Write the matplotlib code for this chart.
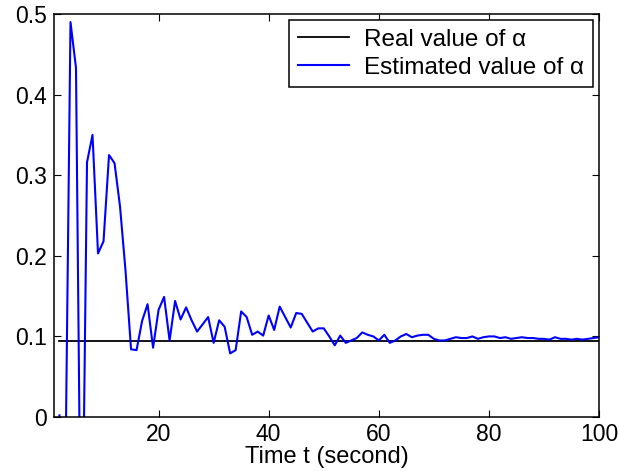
import matplotlib
matplotlib.use('Agg')
import matplotlib.pyplot as plt

plt.rcParams['font.family'] = ['Liberation Sans', 'DejaVu Sans']

# time steps and values
t = list(range(2, 101))
alpha_real = 0.094
alpha_est = [
    0.002, -0.12, 0.490, 0.433, -0.27, 0.316, 0.350, 0.203, 0.218,      # 2-10
    0.325, 0.315, 0.261, 0.181, 0.084, 0.083, 0.119, 0.140, 0.086, 0.133,  # 11-20
    0.149, 0.095, 0.144, 0.121, 0.136, 0.120, 0.106, 0.115, 0.124, 0.092,  # 21-30
    0.120, 0.112, 0.079, 0.083, 0.131, 0.124, 0.102, 0.106, 0.101, 0.126,  # 31-40
    0.108, 0.137, 0.124, 0.111, 0.129, 0.128, 0.117, 0.106, 0.110, 0.110,  # 41-50
    0.100, 0.089, 0.101, 0.092, 0.095, 0.098, 0.105, 0.102, 0.100, 0.095,  # 51-60
    0.102, 0.092, 0.095, 0.100, 0.103, 0.099, 0.101, 0.102, 0.102, 0.097,  # 61-70
    0.095, 0.095, 0.097, 0.099, 0.098, 0.098, 0.100, 0.097, 0.099, 0.100,  # 71-80
    0.100, 0.098, 0.099, 0.097, 0.098, 0.099, 0.098, 0.098, 0.097, 0.097,  # 81-90
    0.096, 0.099, 0.097, 0.097, 0.096, 0.097, 0.096, 0.097, 0.098, 0.099,  # 91-100
]
y_ticks = [0, 0.1, 0.2, 0.3, 0.4, 0.5]
y_tick_labels = ['0', '0.1', '0.2', '0.3', '0.4', '0.5']
x_ticks = [20, 40, 60, 80, 100]

fig = plt.figure(figsize=(6.19, 4.71), dpi=100)
ax = fig.add_axes([0.0872, 0.1146, 0.8805, 0.8557])

ax.plot([t[0], t[-1]], [alpha_real, alpha_real], color='black', linewidth=1.3,
        label='Real value of α')
ax.plot(t, alpha_est, color='blue', linewidth=1.5, label='Estimated value of α')

ax.set_xlim(1, 100)
ax.set_ylim(0, 0.5)
ax.set_xticks(x_ticks)
ax.set_yticks(y_ticks)
ax.set_yticklabels(y_tick_labels)
ax.tick_params(direction='in', top=True, right=True, labelsize=16.5, length=5, width=0.8)
ax.tick_params(axis='x', pad=4)
ax.tick_params(axis='y', pad=5)
for sp in ax.spines.values():
    sp.set_linewidth(1.1)
ax.set_xlabel('Time t (second)', fontsize=17, labelpad=0)

leg = ax.legend(loc='upper right', fontsize=17.5, fancybox=False, edgecolor='black',
                framealpha=1, handlelength=2.1, borderaxespad=0.25,
                borderpad=0.35, labelspacing=0.25, handletextpad=0.65)
leg.get_frame().set_linewidth(1.1)

fig.savefig('out.png', dpi=100)
